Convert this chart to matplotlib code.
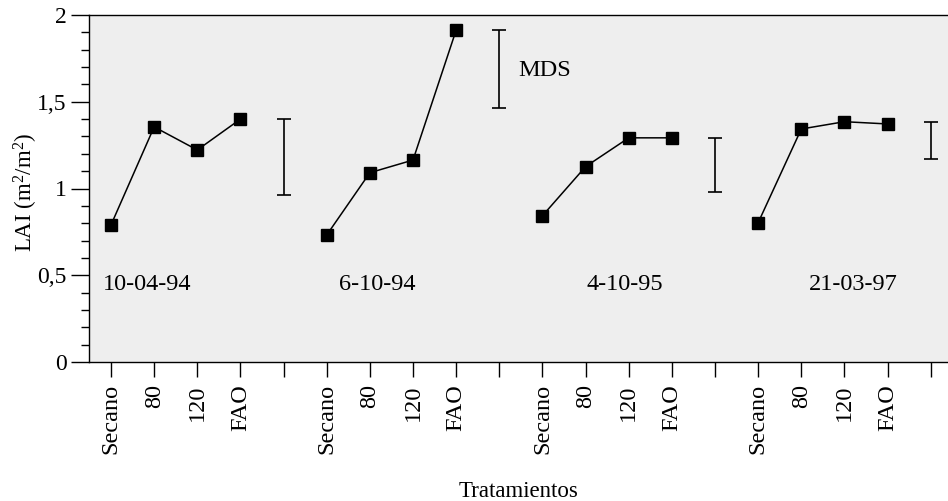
import numpy as np
import matplotlib
matplotlib.use("Agg")
from matplotlib import pyplot as plt
from matplotlib.ticker import MultipleLocator, FuncFormatter

plt.rcParams['font.family'] = ['Liberation Serif', 'DejaVu Serif']
plt.rcParams['mathtext.fontset'] = 'custom'
plt.rcParams['mathtext.rm'] = 'Liberation Serif'
plt.rcParams['mathtext.it'] = 'Liberation Serif:italic'

# datos LAI por fecha y tratamiento
treatments = ['Secano', '80', '120', 'FAO']
dates = ['10-04-94', '6-10-94', '4-10-95', '21-03-97']
lai_940410 = [0.79, 1.355, 1.222, 1.40]
lai_941006 = [0.732, 1.091, 1.164, 1.913]
lai_951004 = [0.843, 1.126, 1.292, 1.292]
lai_970321 = [0.803, 1.343, 1.385, 1.372]
# MDS: (top, bottom)
mds_top = [1.40, 1.913, 1.291, 1.383]
mds_bottom = [0.961, 1.462, 0.982, 1.172]

series = [lai_940410, lai_941006, lai_951004, lai_970321]

fig = plt.figure(figsize=(9.48, 5.01), dpi=100)
ax = fig.add_axes([89/948, 1 - 362/501, 1 - 89/948, (362 - 15)/501])
ax.set_facecolor('#eeeeee')

xticks = []
xlabels = []
for i, vals in enumerate(series):
    x = np.arange(1, 5) + 5*i
    ax.plot(x, vals, '-', color='black', lw=1.1, marker='s', ms=9,
            mfc='black', mec='black')
    xm = 5 + 5*i
    mid = (mds_top[i] + mds_bottom[i]) / 2.
    half = (mds_top[i] - mds_bottom[i]) / 2.
    ax.errorbar(xm, mid, yerr=half, fmt='none', ecolor='black',
                elinewidth=1.2, capsize=5, capthick=1.2)
    xticks += list(x) + [xm]
    xlabels += treatments + ['']

# etiquetas de fecha
ax.text(0.81, 0.444, dates[0], fontsize=17.5, va='center', ha='left')
ax.text(7.17, 0.444, dates[1], fontsize=17.5, va='center', ha='center')
ax.text(12.92, 0.444, dates[2], fontsize=17.5, va='center', ha='center')
ax.text(18.2, 0.444, dates[3], fontsize=17.5, va='center', ha='center')
ax.text(10.45, 1.68, 'MDS', fontsize=17.5, va='center', ha='left')

ax.set_xlim(0.49, 20.4)
ax.set_ylim(0, 2)
ax.set_xticks(xticks)
ax.set_xticklabels(xlabels, rotation=90, fontsize=17.5)
ax.yaxis.set_major_locator(MultipleLocator(0.5))
ax.yaxis.set_minor_locator(MultipleLocator(0.1))
ax.yaxis.set_major_formatter(FuncFormatter(lambda v, p: ('%g' % v).replace('.', ',')))
ax.tick_params(axis='y', which='major', direction='out', length=13, width=1, labelsize=17, pad=3)
ax.tick_params(axis='y', which='minor', direction='out', length=6, width=1)
ax.tick_params(axis='x', direction='out', length=11, width=1, pad=5)
ax.spines['right'].set_visible(False)
for s in ['left', 'top', 'bottom']:
    ax.spines[s].set_linewidth(1)

ax.set_ylabel('LAI (m$^2$/m$^2$)', fontsize=16.5)
ax.yaxis.set_label_coords(-0.057, 0.49)
fig.text(0.547, 0.018, 'Tratamientos', fontsize=16.5, ha='center', va='center')

plt.savefig('out.png', dpi=100)
